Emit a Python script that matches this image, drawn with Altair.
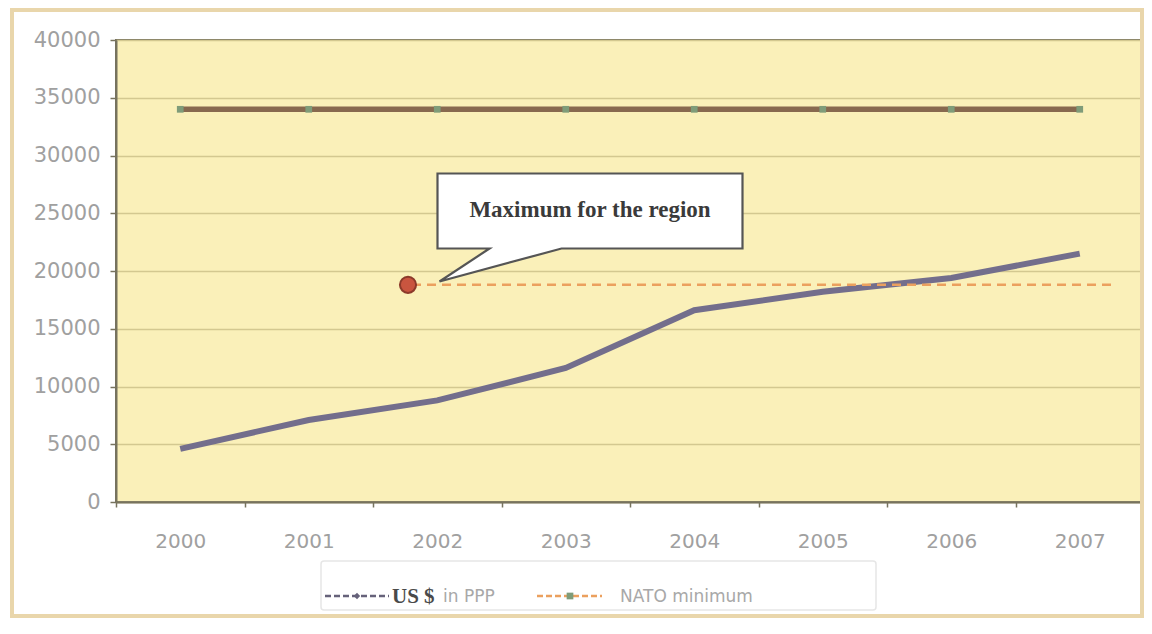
import altair as alt
import pandas as pd

# ---- data ----
years = ["2000", "2001", "2002", "2003", "2004", "2005", "2006", "2007"]
usd_ppp = [4600, 7100, 8800, 11600, 16600, 18200, 19400, 21500]
nato_minimum = [34000, 34000, 34000, 34000, 34000, 34000, 34000, 34000]
region_max = [18800]
y_ticks = [0, 5000, 10000, 15000, 20000, 25000, 30000, 35000, 40000]
callout_text = ["Maximum for the region"]
legend_labels = ["US $", "in PPP", "NATO minimum"]

df = pd.DataFrame({"year": years, "usd": usd_ppp, "nato": nato_minimum})
one = pd.DataFrame({"k": [0]})
rmax = pd.DataFrame({"v": region_max})

W, H = 1028, 462
LABEL_FONT = "DejaVu Sans"
GREY = "#a0a0a0"

x_enc = alt.X(
    "year:N",
    scale=alt.Scale(type="band", paddingInner=0, paddingOuter=0),
    axis=alt.Axis(
        title=None, labelAngle=0, tickBand="extent", tickSize=5, tickColor="#77735e",
        tickWidth=1.5, labelPadding=24, labelFont=LABEL_FONT, labelFontSize=20,
        labelColor=GREY, domainColor="#77735e", domainWidth=2, grid=False,
    ),
)
y_scale = alt.Scale(domain=[0, 40000], nice=False, zero=True)
y_axis = alt.Axis(
    title=None, values=y_ticks, format="d", tickSize=6, tickColor="#77735e",
    tickWidth=1.5, labelPadding=10, labelFont=LABEL_FONT, labelFontSize=21,
    labelColor=GREY, domainColor="#77735e", domainWidth=2, grid=True,
    gridColor="#d3c890", gridWidth=1.5,
)

base = alt.Chart(df)

usd_line = base.mark_line(color="#736e8c", strokeWidth=6).encode(
    x=x_enc, y=alt.Y("usd:Q", scale=y_scale, axis=y_axis)
)
nato_line = base.mark_line(color="#87694f", strokeWidth=5.5).encode(
    x=x_enc, y=alt.Y("nato:Q", scale=y_scale)
)
nato_pts = base.mark_square(color="#7f9c79", size=45, opacity=1).encode(
    x=x_enc, y=alt.Y("nato:Q", scale=y_scale)
)

# region maximum: dashed line and dot
max_rule = alt.Chart(rmax).mark_rule(
    color="#eba05e", strokeDash=[9, 6], strokeWidth=2.5
).encode(x=alt.value(296), x2=alt.value(998), y=alt.Y("v:Q", scale=y_scale))
max_dot = alt.Chart(rmax).mark_point(
    filled=True, fill="#c9553f", stroke="#8c3a2a", strokeWidth=2, size=260, opacity=1
).encode(x=alt.value(292), y=alt.Y("v:Q", scale=y_scale))

# callout
callout_path = (
    "M -1.525 -0.375 L 1.525 -0.375 L 1.525 0.375 L -0.285 0.375 "
    "L -1.505 0.705 L -1.005 0.375 L -1.525 0.375 Z"
)
callout = alt.Chart(one).mark_point(
    shape=callout_path, size=40000, filled=True, fill="white", stroke="#555555",
    strokeWidth=2.2, opacity=1,
).encode(x=alt.value(474), y=alt.value(171))
callout_lbl = alt.Chart(pd.DataFrame({"t": callout_text})).mark_text(
    font="Liberation Serif", fontWeight="bold", fontSize=23, color="#3a3a3a",
    align="center", baseline="middle",
).encode(x=alt.value(474), y=alt.value(170), text="t:N")

# outer frame
frame = alt.Chart(one).mark_rect(
    fill=None, stroke="#e9d6ab", strokeWidth=4
).encode(x=alt.value(-104), x2=alt.value(1026), y=alt.value(-30), y2=alt.value(576))

# custom legend
leg_box = alt.Chart(one).mark_rect(
    fill="white", stroke="#e6e6e6", strokeWidth=1.5, cornerRadius=3
).encode(x=alt.value(205), x2=alt.value(760), y=alt.value(521), y2=alt.value(570))
leg_usd_line = alt.Chart(one).mark_rule(
    color="#66627a", strokeDash=[6, 3], strokeWidth=2.5
).encode(x=alt.value(209), x2=alt.value(273), y=alt.value(556))
leg_usd_pt = alt.Chart(one).mark_point(
    shape="diamond", filled=True, color="#66627a", size=40, opacity=1
).encode(x=alt.value(241), y=alt.value(556))
leg_usd_txt = alt.Chart(pd.DataFrame({"t": [legend_labels[0]]})).mark_text(
    font="Liberation Serif", fontWeight="bold", fontSize=21, color="#4a4a4a",
    align="left", baseline="middle",
).encode(x=alt.value(276), y=alt.value(557), text="t:N")
leg_ppp_txt = alt.Chart(pd.DataFrame({"t": [legend_labels[1]]})).mark_text(
    font=LABEL_FONT, fontSize=17, color="#a8a8a8", align="left", baseline="middle",
).encode(x=alt.value(327), y=alt.value(557), text="t:N")
leg_nato_line = alt.Chart(one).mark_rule(
    color="#eba05e", strokeDash=[6, 3], strokeWidth=2.5
).encode(x=alt.value(421), x2=alt.value(486), y=alt.value(556))
leg_nato_pt = alt.Chart(one).mark_square(
    color="#7f9c79", size=45, opacity=1
).encode(x=alt.value(454), y=alt.value(556))
leg_nato_txt = alt.Chart(pd.DataFrame({"t": [legend_labels[2]]})).mark_text(
    font=LABEL_FONT, fontSize=17, color="#a8a8a8", align="left", baseline="middle",
).encode(x=alt.value(504), y=alt.value(557), text="t:N")

chart = alt.layer(
    frame, usd_line, max_rule, nato_line, nato_pts, callout, callout_lbl, max_dot,
    leg_box, leg_usd_line, leg_usd_pt, leg_usd_txt, leg_ppp_txt,
    leg_nato_line, leg_nato_pt, leg_nato_txt,
).properties(
    width=W, height=H,
    autosize=alt.AutoSizeParams(type="none"),
    padding={"left": 108, "top": 32, "right": 0, "bottom": 118},
    background="white",
).configure_view(
    fill="#faf0b9", stroke="#77735e", strokeWidth=2
)

chart.save("out.html", embed_options={"renderer": "svg", "actions": False})
